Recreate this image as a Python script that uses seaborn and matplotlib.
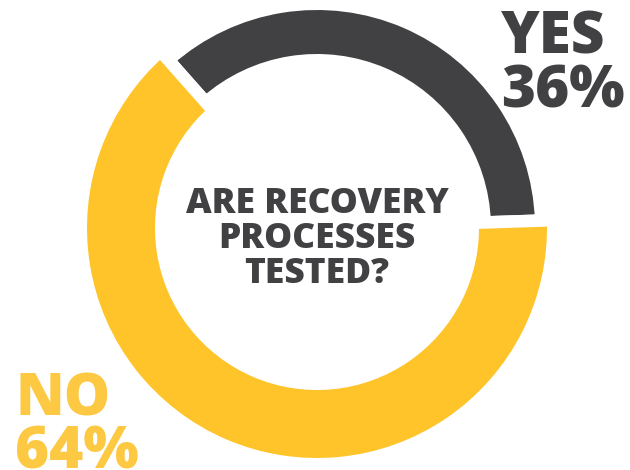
import matplotlib
matplotlib.use("Agg")
import matplotlib.pyplot as plt
import seaborn as sns

sns.set_theme(style="white")
plt.rcParams["font.family"] = ["Open Sans", "DejaVu Sans"]

# Survey answers
answers = ["YES", "NO"]
shares = [36, 64]
colors = ["#414042", "#FEC42A"]
label_colors = ["#414042", "#FDC842"]
question = "ARE RECOVERY\nPROCESSES\nTESTED?"

W, H = 630, 470
cx, cy = 317, 228  # ring centre in pixels from top-left

fig = plt.figure(figsize=(W / 100, H / 100), dpi=100)
ax = fig.add_axes([0, 0, 1, 1])

gap_px = 12.5
gap_pt = gap_px * 72 / 100
# ring geometry (outer radius, thickness) for each answer
rings = {"YES": (218, 44), "NO": (230, 68)}

for i, ans in enumerate(answers):
    R, t = rings[ans]
    wedges, _ = ax.pie(
        shares,
        colors=colors,
        startangle=131.5,
        counterclock=False,
        radius=R + gap_px / 2,
        wedgeprops=dict(width=t + gap_px, edgecolor="white",
                        linewidth=gap_pt, joinstyle="miter"),
    )
    for j, w in enumerate(wedges):
        if j != i:
            w.set_visible(False)

ax.set_xlim(-cx, W - cx)
ax.set_ylim(-(H - cy), cy)
ax.set_aspect("equal")
ax.set_axis_off()

ax.text(0, cy - 239, question, ha="center", va="center",
        fontsize=25.5, fontweight="heavy", color="#414042",
        linespacing=0.97)

ax.text(501 - cx, cy - 8, f"{answers[0]}\n{shares[0]}%", ha="left", va="top",
        fontsize=42, fontweight="heavy", color=label_colors[0],
        linespacing=0.89)
ax.text(15 - cx, cy - 371, f"{answers[1]}\n{shares[1]}%", ha="left", va="top",
        fontsize=42, fontweight="heavy", color=label_colors[1],
        linespacing=0.86)

fig.savefig("out.png", dpi=100)
